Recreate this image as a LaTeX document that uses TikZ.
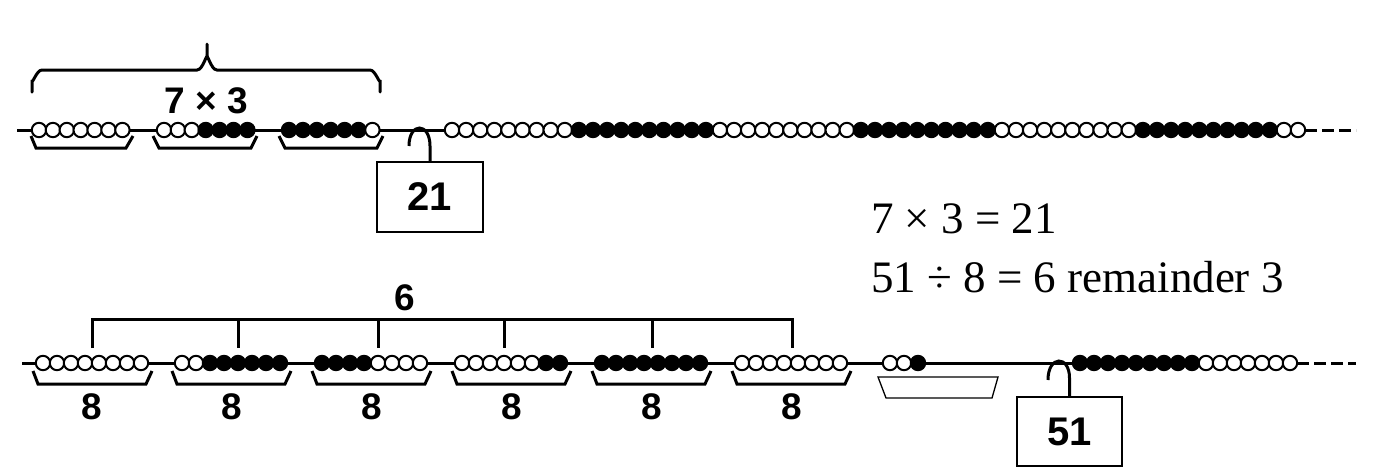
\documentclass[tikz,border=0pt]{standalone}
\usepackage{fontspec}
\setmainfont{Liberation Serif}
\newfontfamily\labfont{Liberation Sans}
\newcommand\beadrun[5]{%
  \foreach \n [count=\k from 0] in {#1,...,#2}{%
    \pgfmathtruncatemacro\cc{mod(floor((\n-1)/10),2)}%
    \ifnum\cc=0 \def\fc{white}\else\def\fc{black}\fi
    \draw[bead,fill=\fc] ({#3+\k*#4},#5) circle[radius=7.2pt];
  }}
\begin{document}
\begin{tikzpicture}[x=1pt,y=-1pt,
  bead/.style={draw=black,line width=2pt},
  wire/.style={line width=3pt},
  tray/.style={line width=3pt,line join=miter},
  lab/.style={font=\labfont\bfseries\fontsize{37}{42}\selectfont,inner sep=0pt},
  numbox/.style={draw,line width=1.4pt,minimum width=106pt,minimum height=70pt,inner sep=0pt,
    font=\labfont\bfseries\fontsize{40}{44}\selectfont},
  eq/.style={font=\fontsize{45}{50}\selectfont,inner sep=0pt,anchor=base west},
  dashwire/.style={line width=3pt,dash pattern=on 12pt off 5pt}
]
\useasboundingbox (0,0) rectangle (1376,472);
% wires
\draw[wire] (17,130) -- (1305,130);
\draw[dashwire] (1305,130) -- (1356,130);
\draw[wire] (22,363) -- (1297,363);
\draw[dashwire] (1297,363) -- (1356,363);
% top brace
\draw[wire,line cap=round] (32,92) -- (32,80) to[out=-90,in=180] (42,70) -- (197,70)
  to[out=0,in=90] (207,58) -- (207,44);
\draw[wire,line cap=round] (207,58) to[out=90,in=180] (217,70) -- (370,70)
  to[out=0,in=-90] (380,80) -- (380,92);
\node[lab] (l73) at (206,101) {7 × 3};
% top trays
\draw[tray] (31,136) -- (36,148) -- (126,148) -- (133,136);
\draw[tray] (153,136) -- (159,148) -- (251,148) -- (257,136);
\draw[tray] (279,136) -- (285,148) -- (377,148) -- (383,136);
% top beads
\beadrun{1}{7}{39}{13.9}{130}
\beadrun{8}{14}{164}{13.9}{130}
\beadrun{15}{21}{289}{13.9}{130}
\beadrun{22}{82}{452}{14.1}{130}
% box 21
\node[numbox] (b21) at (430,197) {21};
\coordinate (h21) at (409,146);
\draw[wire] (b21.north) -- (430,146) .. controls (430,122) and (409,122) .. (h21);
% bottom bracket 6
\draw[wire] (92,348) -- (92,319) -- (792,319) -- (792,348);
\foreach \t in {238,378,504,652} \draw[wire] (\t,319) -- (\t,348);
\node[lab] (l6) at (405,298) {6};
% bottom trays and labels
\foreach \L [count=\i] in {36,175,315,455,595,735}{
  \draw[tray] (\L-3,371) -- (\L+2,384) -- (\L+110,384) -- (\L+116,371);
}
\foreach \c [count=\i] in {92,232,372,512,652,792}{
  \node[lab] (e\i) at (\c,407) {8};
}
\draw[line width=1.3pt] (878,377) -- (998,377) -- (992,398) -- (886,398) -- cycle;
% bottom beads
\beadrun{1}{8}{43}{14}{363}
\beadrun{9}{16}{182}{14}{363}
\beadrun{17}{24}{322}{14}{363}
\beadrun{25}{32}{462}{14}{363}
\beadrun{33}{40}{602}{14}{363}
\beadrun{41}{48}{742}{14}{363}
\beadrun{49}{51}{890}{14}{363}
\beadrun{52}{67}{1080}{14}{363}
% box 51
\node[numbox,minimum width=105pt,minimum height=69pt] (b51) at (1069.5,431.5) {51};
\coordinate (h51) at (1048,380);
\draw[wire] (b51.north) -- (1069.5,378) .. controls (1069.5,355) and (1048,355) .. (h51);
% equations
\node[eq] (eq1) at (871,233) {7 × 3 = 21};
\node[eq] (eq2) at (871,292) {51 ÷ 8 = 6 remainder 3};
\end{tikzpicture}
\end{document}
